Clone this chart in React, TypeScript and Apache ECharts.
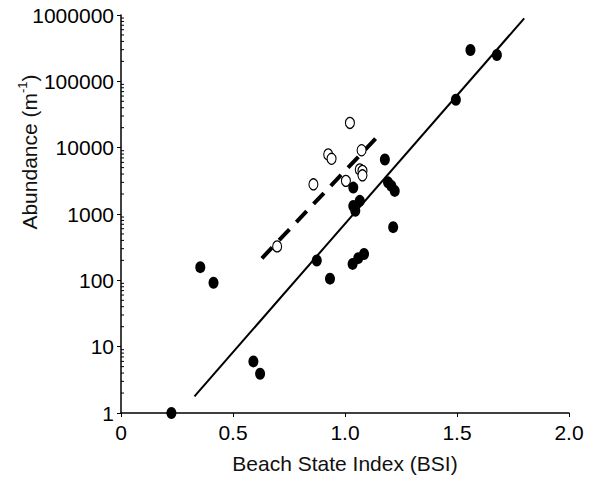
import React, { useEffect, useRef } from "react";
import * as echarts from "echarts";

// Filled circles: [BSI, abundance]
const filledPoints: [number, number][] = [
  [0.225, 1], [0.354, 158], [0.413, 92], [0.591, 6], [0.621, 3.9],
  [0.874, 199], [0.933, 106], [1.034, 177], [1.059, 216], [1.085, 250],
  [1.215, 634], [1.178, 6640], [1.037, 2500], [1.037, 1320], [1.066, 1580],
  [1.046, 1120], [1.192, 3000], [1.207, 2650], [1.222, 2230],
  [1.495, 52800], [1.56, 296000], [1.678, 250000],
];
// Open circles: [BSI, abundance]
const openPoints: [number, number][] = [
  [1.022, 23600], [0.925, 7900], [0.94, 6800], [1.074, 9140], [0.859, 2800],
  [1.004, 3160], [1.066, 4700], [1.078, 4460], [1.078, 3830], [0.697, 325],
];
// Regression lines (end points)
const solidFit: [number, number][] = [[0.328, 1.78], [1.8, 890000]];
const dashedFit: [number, number][] = [[0.629, 215], [1.164, 17100]];

const xTicks = [0, 0.5, 1.0, 1.5, 2.0];
const yMinorTicks: number[] = [];
for (const d of [1, 10, 100, 1000, 10000, 100000]) {
  for (const m of [2, 3, 4, 5, 6, 7, 8, 9]) yMinorTicks.push(d * m);
}

const FONT = "'Liberation Sans', Arial, sans-serif";

export default function App() {
  const ref = useRef<HTMLDivElement>(null);
  useEffect(() => {
    if (!ref.current) return;
    const chart = echarts.init(ref.current, undefined, { renderer: "svg" });
    chart.setOption({
      animation: false,
      backgroundColor: "#fff",
      grid: { left: 121, right: 31, top: 15, bottom: 64 },
      xAxis: {
        type: "value",
        min: xTicks[0],
        max: xTicks[xTicks.length - 1],
        interval: 0.5,
        splitLine: { show: false },
        axisLine: { show: true, onZero: false, lineStyle: { color: "#000", width: 1.5 } },
        axisTick: { show: true, length: 4, lineStyle: { color: "#000" } },
        axisLabel: {
          color: "#000",
          fontFamily: FONT,
          fontSize: 21,
          margin: 9,
          formatter: (v: number) => (v === 0 ? "0" : v.toFixed(1)),
        },
        name: "Beach State Index (BSI)",
        nameLocation: "middle",
        nameGap: 40,
        nameTextStyle: { color: "#111", fontFamily: FONT, fontSize: 21 },
      },
      yAxis: {
        type: "log",
        logBase: 10,
        min: 1,
        max: 1000000,
        splitLine: { show: false },
        axisLine: { show: true, onZero: false, lineStyle: { color: "#000", width: 1.5 } },
        axisTick: { show: true, length: 4, lineStyle: { color: "#000" } },
        axisLabel: {
          color: "#000",
          fontFamily: FONT,
          fontSize: 21,
          margin: 7,
          formatter: (v: number) => String(Math.round(v)),
        },
      },
      graphic: [
        {
          type: "text",
          x: 28,
          y: 152,
          rotation: Math.PI / 2,
          style: {
            text: "{a|Abundance (m}{s|-1}{a|)}",
            align: "center",
            verticalAlign: "middle",
            rich: {
              a: { fontFamily: FONT, fontSize: 21, fill: "#111", lineHeight: 24, verticalAlign: "bottom" },
              s: { fontFamily: FONT, fontSize: 13, fill: "#111", lineHeight: 24, verticalAlign: "top", padding: [0, 0, 8, 0] },
            },
          },
        },
      ],
      series: [
        {
          type: "custom",
          silent: true,
          clip: false,
          data: yMinorTicks.map((v) => [xTicks[0], v]),
          renderItem: (params: any, api: any) => {
            const p = api.coord([api.value(0), api.value(1)]);
            return {
              type: "line",
              shape: { x1: p[0], y1: p[1], x2: p[0] + 3, y2: p[1] },
              style: { stroke: "#000", lineWidth: 1 },
            };
          },
          z: 1,
        },
        {
          type: "line",
          data: solidFit,
          symbol: "none",
          lineStyle: { color: "#000", width: 2, type: "solid" },
          z: 2,
        },
        {
          type: "line",
          data: dashedFit,
          symbol: "none",
          lineStyle: { color: "#000", width: 4, type: [15, 10] },
          z: 2,
        },
        {
          type: "scatter",
          data: filledPoints,
          symbol: "circle",
          symbolSize: [10, 12],
          itemStyle: { color: "#000", opacity: 1 },
          z: 3,
        },
        {
          type: "scatter",
          data: openPoints,
          symbol: "circle",
          symbolSize: [9, 11],
          itemStyle: { color: "#fff", borderColor: "#000", borderWidth: 1.2, opacity: 1 },
          z: 4,
        },
      ],
    });
    return () => chart.dispose();
  }, []);
  return (
    <div
      ref={ref}
      style={{ position: "absolute", left: 0, top: 0, width: 600, height: 479 }}
    />
  );
}
